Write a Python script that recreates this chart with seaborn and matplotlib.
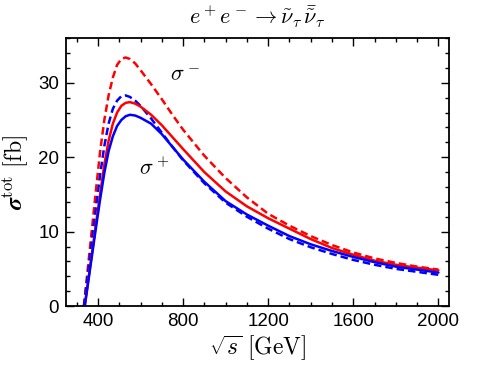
# e+e- -> sneutrino_tau pair, sigma_tot vs sqrt(s)
import pandas as pd
import matplotlib
matplotlib.use("Agg")
import matplotlib.pyplot as plt
import seaborn as sn
from matplotlib.ticker import MultipleLocator

# sqrt(s) in GeV, sigma in fb
x_dashed = [334, 350, 370, 390, 410, 430, 450, 470, 490, 510, 530, 550, 575, 600, 650,
            700, 750, 800, 900, 1000, 1100, 1200, 1300, 1400, 1500, 1600, 1700, 1800, 1900, 2000]
x_solid = [338, 350, 370, 390, 410, 430, 450, 470, 490, 510, 530, 550, 575, 600, 650,
           700, 750, 800, 900, 1000, 1100, 1200, 1300, 1400, 1500, 1600, 1700, 1800, 1900, 2000]

sig_minus_dashed = [0, 4.4, 9.9, 15.4, 20.7, 25.0, 28.3, 30.7, 32.4, 33.2, 33.4, 33.2, 32.6, 31.7, 29.8,
                    27.8, 25.7, 23.7, 20.2, 17.2, 14.6, 12.4, 10.8, 9.4, 8.2, 7.2, 6.4, 5.8, 5.3, 4.9]
sig_minus_solid = [0, 2.5, 6.7, 10.9, 15.0, 19.0, 22.2, 24.5, 26.0, 26.9, 27.3, 27.4, 27.2, 26.8, 25.7,
                   24.3, 22.7, 21.1, 18.0, 15.4, 13.4, 11.8, 10.4, 9.0, 7.8, 6.9, 6.1, 5.55, 5.15, 4.8]
sig_plus_dashed = [0, 3.7, 8.4, 13.0, 17.6, 21.5, 24.5, 26.5, 27.6, 28.2, 28.3, 28.1, 27.6, 26.9, 25.2,
                   23.3, 21.4, 19.6, 16.5, 13.9, 12.0, 10.4, 9.0, 7.9, 7.0, 6.2, 5.55, 5.0, 4.6, 4.2]
sig_plus_solid = [0, 2.4, 6.4, 10.4, 14.3, 17.9, 20.8, 22.8, 24.2, 25.0, 25.5, 25.7, 25.6, 25.3, 24.5,
                  23.1, 21.4, 19.7, 16.7, 14.1, 12.3, 10.8, 9.4, 8.3, 7.4, 6.6, 5.9, 5.3, 4.9, 4.5]

sn.set_style("ticks")
plt.rcParams['font.family'] = ['Liberation Sans', 'DejaVu Sans']
plt.rcParams['mathtext.fontset'] = 'cm'
plt.rcParams['xtick.direction'] = 'in'
plt.rcParams['ytick.direction'] = 'in'
for k in ['text.color', 'axes.labelcolor', 'xtick.color', 'ytick.color', 'axes.edgecolor']:
    plt.rcParams[k] = 'black'

fig = plt.figure(figsize=(5.04, 3.85), dpi=100)
ax = fig.add_axes([0.131, 0.205, 0.76, 0.696])

curves = [
    (x_dashed, sig_minus_dashed, '#ff0000', (0, (3, 1.6))),
    (x_dashed, sig_plus_dashed, '#0000ff', (0, (3, 1.6))),
    (x_solid, sig_minus_solid, '#ff0000', '-'),
    (x_solid, sig_plus_solid, '#0000ff', '-'),
]
for xs, ys, c, ls in curves:
    df = pd.DataFrame({'sqrt_s': xs, 'sigma': ys})
    sn.lineplot(data=df, x='sqrt_s', y='sigma', color=c, lw=1.8, linestyle=ls, ax=ax)

ax.text(810, 31.0, r'$\sigma^-$', fontsize=16, ha='center', va='center')
ax.text(665, 18.5, r'$\sigma^+$', fontsize=16, ha='center', va='center')

ax.set_xlim(250, 2050)
ax.set_ylim(0, 36)
ax.xaxis.set_major_locator(MultipleLocator(400))
ax.xaxis.set_minor_locator(MultipleLocator(100))
ax.yaxis.set_major_locator(MultipleLocator(10))
ax.yaxis.set_minor_locator(MultipleLocator(2))
ax.tick_params(which='both', top=True, right=True, labelsize=13.5, width=1.0)
ax.tick_params(which='major', length=6, pad=5)
ax.tick_params(which='minor', length=3)
for s in ax.spines.values():
    s.set_linewidth(1.3)

ax.set_xlabel(r'$\sqrt{s}\ \mathrm{[GeV]}$', fontsize=17, labelpad=3)
ax.set_ylabel(r'$\boldsymbol{\sigma}^{\rm tot}\ \mathrm{[fb]}$', fontsize=17, labelpad=6)
fig.text(0.51, 0.955, r'$e^+e^- \rightarrow \tilde{\nu}_\tau\,\bar{\tilde{\nu}}_\tau$',
         fontsize=16, ha='center', va='center')

plt.savefig("out.png", dpi=100)
